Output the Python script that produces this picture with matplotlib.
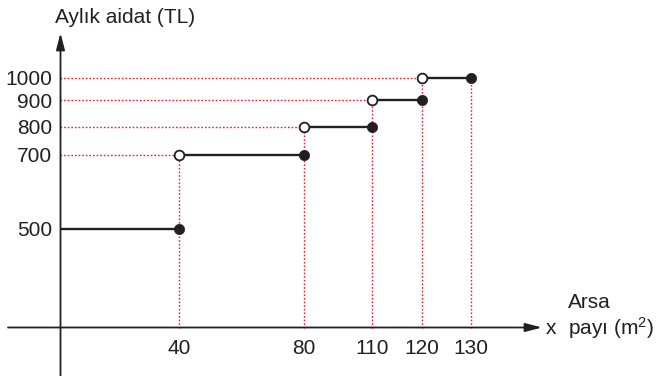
import numpy as np
import matplotlib
matplotlib.use("Agg")
import matplotlib.pyplot as plt
from matplotlib.scale import FuncScale

# ---------------- data ----------------
x_breaks = [0, 40, 80, 110, 120, 130]          # land share (m2) breakpoints
fees = [500, 700, 800, 900, 1000]              # monthly fee (TL) per interval (a, b]
x_ticks = [40, 80, 110, 120, 130]
y_ticks = [500, 700, 800, 900, 1000]
y_label = "Aylık aidat (TL)"
x_label_top = "Arsa"
x_label_bottom = "payı (m$^2$)"

# ------------- schematic (non-linear) axis layout, pixel knots -------------
W, H = 657, 376
X_KNOTS = [0, 40, 80, 110, 120, 130]
X_PIX = [60.5, 179, 304, 372.3, 422, 471.3]
Y_KNOTS = [0, 500, 700, 800, 900, 1000]
Y_PIX = [H - 327.5, H - 229, H - 155, H - 127, H - 100, H - 77.5]


def make_pw(xk, pk):
    xk = np.asarray(xk, float)
    pk = np.asarray(pk, float)
    s0 = (pk[1] - pk[0]) / (xk[1] - xk[0])
    s1 = (pk[-1] - pk[-2]) / (xk[-1] - xk[-2])

    def f(x):
        x = np.asarray(x, float)
        y = np.interp(x, xk, pk)
        y = np.where(x < xk[0], pk[0] + (x - xk[0]) * s0, y)
        y = np.where(x > xk[-1], pk[-1] + (x - xk[-1]) * s1, y)
        return y
    return f


xf, xi = make_pw(X_KNOTS, X_PIX), make_pw(X_PIX, X_KNOTS)
yf, yi = make_pw(Y_KNOTS, Y_PIX), make_pw(Y_PIX, Y_KNOTS)

plt.rcParams['font.family'] = ['Liberation Sans', 'DejaVu Sans']
plt.rcParams['mathtext.fontset'] = 'custom'
plt.rcParams['mathtext.rm'] = 'Liberation Sans'
plt.rcParams['mathtext.it'] = 'Liberation Sans'
plt.rcParams['mathtext.default'] = 'regular'
fig = plt.figure(figsize=(W / 100, H / 100), dpi=100)
ax = fig.add_axes([0, 0, 1, 1])
ax.set_xscale(FuncScale(ax.xaxis, (xf, xi)))
ax.set_yscale(FuncScale(ax.yaxis, (yf, yi)))
ax.set_xlim(float(xi(0)), float(xi(W)))
ax.set_ylim(float(yi(0)), float(yi(H)))
ax.axis('off')

ink = '#231f20'
red = '#e8202a'
fs = 15

# axes with arrows
x_start, x_tip = float(xi(8)), float(xi(542))
y_bottom, y_tip = float(yi(0)), float(yi(H - 33))
ax.annotate('', xy=(x_tip, 0), xytext=(x_start, 0),
            arrowprops=dict(arrowstyle='-|>,head_length=1.0,head_width=0.26',
                            color=ink, lw=1.3, shrinkA=0, shrinkB=0), zorder=3)
ax.annotate('', xy=(0, y_tip), xytext=(0, y_bottom),
            arrowprops=dict(arrowstyle='-|>,head_length=1.0,head_width=0.26',
                            color=ink, lw=1.3, shrinkA=0, shrinkB=0), zorder=3)

dot = dict(color=red, lw=1.0, ls=(0, (1.2, 1.4)), zorder=1)
# horizontal guides from y axis to the left (open) end of each step
for a, v in zip(x_breaks[:-1], fees):
    if a > 0:
        ax.plot([0, a], [v, v], **dot)
# vertical guides from highest value at each breakpoint down to x axis
for i, b in enumerate(x_breaks[1:]):
    top = fees[i + 1] if i + 1 < len(fees) else fees[i]
    ax.plot([b, b], [0, top], **dot)

# step segments
for a, b, v in zip(x_breaks[:-1], x_breaks[1:], fees):
    ax.plot([a, b], [v, v], color=ink, lw=1.7, solid_capstyle='butt', zorder=4)
    if a > 0:
        ax.plot([a], [v], 'o', ms=7.0, mfc='white', mec=ink, mew=1.3, zorder=5)
    ax.plot([b], [v], 'o', ms=7.4, mfc=ink, mec=ink, mew=0.5, zorder=5)

# tick labels
for t in x_ticks:
    ax.annotate(str(t), xy=(t, 0), xytext=(0, -26), textcoords='offset pixels',
                ha='center', va='baseline', fontsize=fs, color=ink)
for t in y_ticks:
    ax.annotate(str(t), xy=(0, t), xytext=(-8, -7.5), textcoords='offset pixels',
                ha='right', va='baseline', fontsize=fs, color=ink)

# axis labels
ax.annotate(y_label, xy=(0, y_tip), xytext=(-5, 10), textcoords='offset pixels',
            ha='left', va='baseline', fontsize=fs, color=ink)
ax.annotate('x', xy=(x_tip, 0), xytext=(4, -7), textcoords='offset pixels',
            ha='left', va='baseline', fontsize=fs, color=ink)
ax.annotate(x_label_top, xy=(x_tip, 0), xytext=(26, 20), textcoords='offset pixels',
            ha='left', va='baseline', fontsize=fs, color=ink)
ax.annotate(x_label_bottom, xy=(x_tip, 0), xytext=(26, -7), textcoords='offset pixels',
            ha='left', va='baseline', fontsize=fs, color=ink)

fig.savefig('out.png', dpi=100)
